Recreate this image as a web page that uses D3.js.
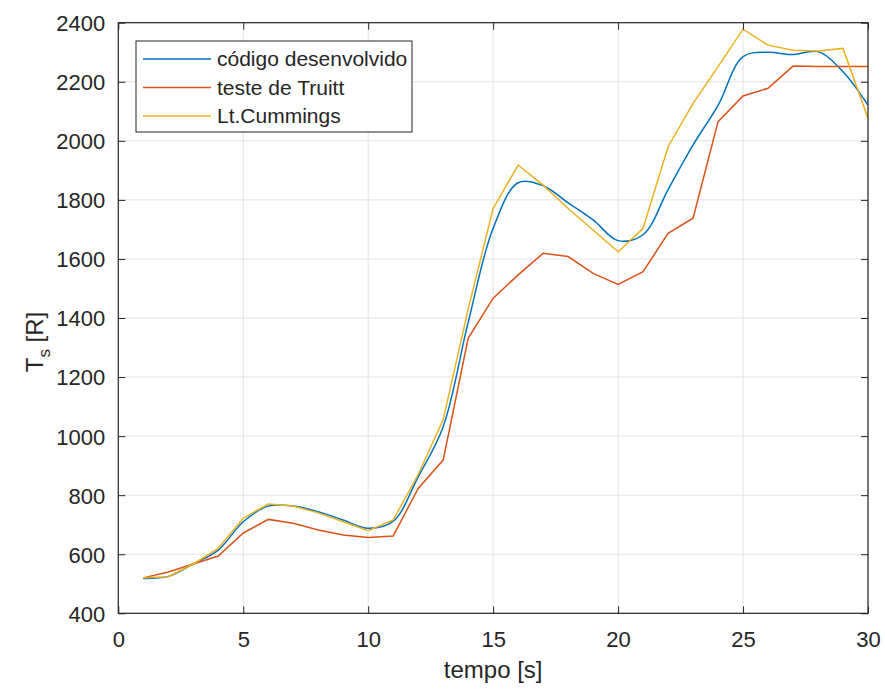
<!DOCTYPE html>
<html><head><meta charset="utf-8">
<script src="https://cdn.jsdelivr.net/npm/d3@7"></script>
<style>body{margin:0;background:#fff}svg{display:block}text{font-family:"Liberation Sans",Arial,sans-serif;fill:#262626}</style>
</head><body><svg id="c" width="885" height="689"></svg>
<script>
const tempo = [1,2,3,4,5,6,7,8,9,10,11,12,13,14,15,16,17,18,19,20,21,22,23,24,25,26,27,28,29,30];
const codigo = [518,525,567,614,710,763,763,744,716,688,712,862,1032,1385,1704,1858,1848,1790,1732,1662,1682,1835,1986,2120,2285,2300,2292,2302,2234,2121];
const truitt = [520,540,567,594,672,718,705,682,665,657,662,823,919,1331,1467,1546,1619,1608,1551,1514,1557,1687,1738,2065,2152,2178,2253,2252,2252,2252];
const cummings = [520,524,567,620,722,770,763,740,710,680,716,870,1055,1430,1771,1918,1850,1771,1698,1624,1704,1980,2127,2251,2378,2324,2307,2304,2313,2076];
const seriesNames = ["código desenvolvido","teste de Truitt","Lt.Cummings"];
const seriesColors = ["#0072BD","#D95319","#EDB120"];
const xTicks = [0,5,10,15,20,25,30];
const yTicks = [400,600,800,1000,1200,1400,1600,1800,2000,2200,2400];

const svg = d3.select("#c");
const L=118.3,R=868,T=22.7,B=613.3;
const x = d3.scaleLinear().domain([0,30]).range([L,R]);
const y = d3.scaleLinear().domain([400,2400]).range([B,T]);

// grid
const g = svg.append("g");
g.selectAll(".gx").data(xTicks).join("line").attr("x1",d=>x(d)).attr("x2",d=>x(d)).attr("y1",T).attr("y2",B).attr("stroke","#e3e3e3").attr("stroke-width",1);
g.selectAll(".gy").data(yTicks).join("line").attr("y1",d=>y(d)).attr("y2",d=>y(d)).attr("x1",L).attr("x2",R).attr("stroke","#e3e3e3").attr("stroke-width",1);

// lines
const data = [codigo,truitt,cummings];
const curves = [d3.curveCatmullRom.alpha(0.5),d3.curveLinear,d3.curveLinear];
data.forEach((s,i)=>{
  const line = d3.line().x((d,j)=>x(tempo[j])).y(d=>y(d)).curve(curves[i]);
  svg.append("path").datum(s).attr("d",line).attr("fill","none").attr("stroke",seriesColors[i]).attr("stroke-width",1.5);
});

// axes
const ax = svg.append("g").attr("transform",`translate(0,${B})`).call(d3.axisBottom(x).tickValues(xTicks).tickSize(-7).tickPadding(18));
const ay = svg.append("g").attr("transform",`translate(${L},0)`).call(d3.axisLeft(y).tickValues(yTicks).tickSize(-7).tickPadding(13).tickFormat(d3.format("d")));
const axT = svg.append("g").attr("transform",`translate(0,${T})`).call(d3.axisTop(x).tickValues(xTicks).tickSize(-7).tickFormat(""));
const ayR = svg.append("g").attr("transform",`translate(${R},0)`).call(d3.axisRight(y).tickValues(yTicks).tickSize(-7).tickFormat(""));
[ax,ay,axT,ayR].forEach(a=>{
  a.select(".domain").remove();
  a.selectAll("line").attr("stroke","#262626").attr("stroke-width",1);
  a.selectAll("text").style("font-size","22px").attr("fill","#262626");
});
ay.selectAll("text").attr("dy","0.36em");
svg.append("rect").attr("x",L).attr("y",T).attr("width",R-L).attr("height",B-T).attr("fill","none").attr("stroke","#262626").attr("stroke-width",1.2);

// axis labels
svg.append("text").attr("x",(L+R)/2).attr("y",678).attr("text-anchor","middle").style("font-size","24px").text("tempo [s]");
const yl = svg.append("text").attr("transform","translate(43,342) rotate(-90)").attr("text-anchor","middle").style("font-size","24px");
yl.append("tspan").text("T");
yl.append("tspan").attr("dy","7").style("font-size","17px").text("s");
yl.append("tspan").attr("dy","-7").text(" [R]");

// legend
const lg = svg.append("g");
lg.append("rect").attr("x",136).attr("y",41).attr("width",276).attr("height",91).attr("fill","#fff").attr("stroke","#262626").attr("stroke-width",1);
const rows=[59,87.5,116];
seriesNames.forEach((n,i)=>{
  lg.append("line").attr("x1",143).attr("x2",211).attr("y1",rows[i]).attr("y2",rows[i]).attr("stroke",seriesColors[i]).attr("stroke-width",1.5);
  lg.append("text").attr("x",217).attr("y",rows[i]).attr("dy","0.35em").style("font-size","21px").text(n);
});
</script></body></html>
